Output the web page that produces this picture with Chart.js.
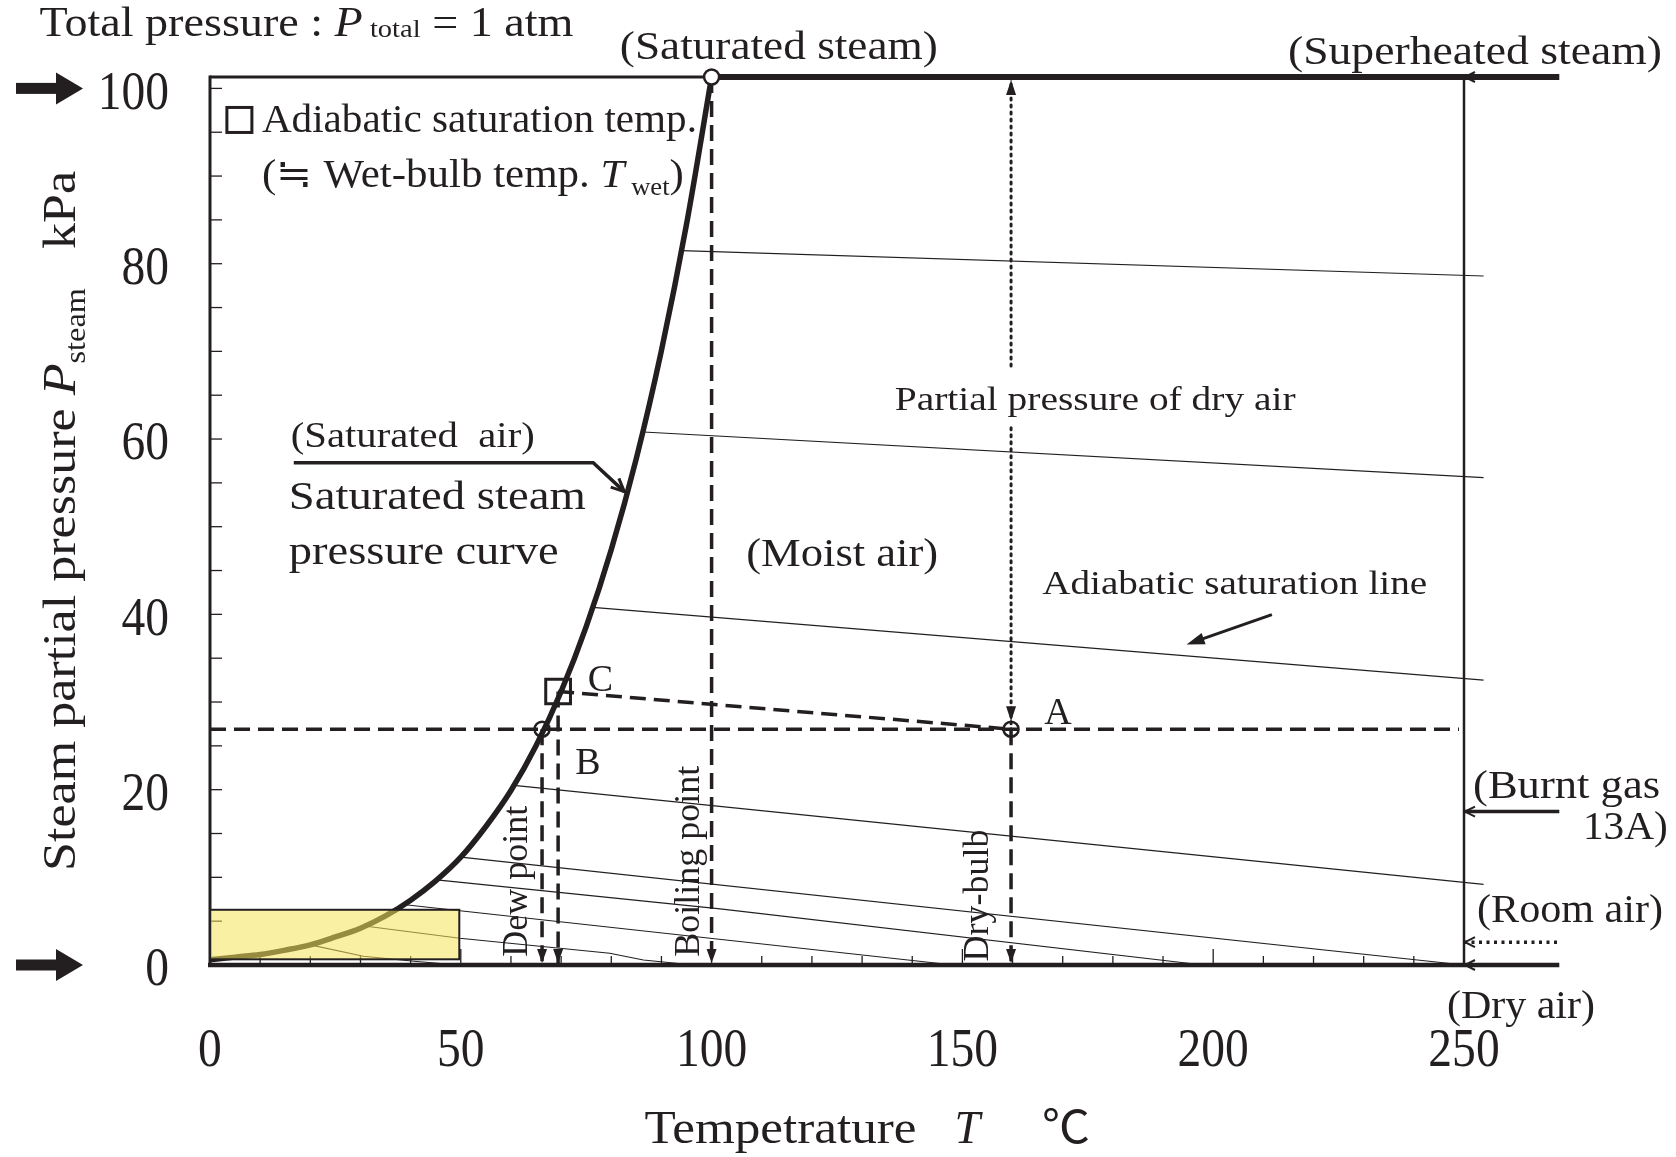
<!DOCTYPE html>
<html>
<head>
<meta charset="utf-8">
<script src="https://cdn.jsdelivr.net/npm/chart.js@4.4.1/dist/chart.umd.min.js"></script>
<style>
  html, body { margin: 0; padding: 0; background: #fff; }
</style>
</head>
<body>
<canvas id="psy" width="1676" height="1157"></canvas>
<script>
const INK = '#231f20';
const SERIF = '"Liberation Serif", "Times New Roman", "Noto Sans CJK JP", serif';

// axes
const totalPressure = 101.3;
const tempTicks = [0, 50, 100, 150, 200, 250];
const pressTicks = [0, 20, 40, 60, 80, 100];

// saturated steam pressure curve
const satTemp = [0, 5, 10, 15, 20, 25, 30, 35, 40, 45, 50, 55, 60, 65, 70, 75, 80, 85, 90, 95, 100];
const satPress = [0.6, 0.9, 1.2, 1.7, 2.3, 3.2, 4.2, 5.6, 7.4, 9.6, 12.3, 15.8, 19.9, 25.0, 31.2, 38.6, 47.4, 57.8, 70.1, 84.5, 101.3];

// adiabatic saturation lines (one list per line)
const adiabatTemp = [
  [94.0, 253.9], [86.4, 253.9], [76.3, 253.9], [60.6, 253.9], [50.0, 250],
  [45.2, 101.7, 198], [38.5, 148.2], [30.8, 49.8, 79.7, 86.4, 96.4], [20, 30.6, 41.2, 49.7]
];
const adiabatPress = [
  [81.5, 78.6], [60.8, 55.6], [40.8, 32.5], [20.5, 9.2], [12.3, 0],
  [9.7, 6.4, 0], [6.9, 0], [4.45, 3.05, 1.34, 0.57, 0], [2.3, 1.0, 0.4, 0]
];

// states: A dry-bulb, B dew point, C adiabatic saturation
const stateNames = ['A', 'B', 'C'];
const stateTemp = [159.7, 66.2, 69.4];
const statePress = [26.9, 26.9, 31.2];
const boilingTemp = 100;
const dewLineEnd = 249;
const dryAirGap = [61.3, 68.2];

// gas inlets on the right edge
const gasNames = ['Burnt gas 13A', 'Room air', 'Dry air'];
const gasPress = [17.5, 2.6, 0];
const edgeTemp = 250;
const arrowTailTemp = 269;

// highlighted low range
const boxTemp = [0, 49.7];
const boxPress = [0.65, 6.3];

const pts = (ts, ps) => ts.map((t, i) => ({ x: t, y: ps[i] }));
const line = (data, extra) => Object.assign({
  data, showLine: true, borderColor: INK, backgroundColor: INK, pointRadius: 0,
  borderWidth: 1.2, clip: false, tension: 0, order: 1
}, extra);
const DASH = [16, 8];
const [aT, bT, cT] = stateTemp;
const [aP, bP, cP] = statePress;

const datasets = [
  { data: [{ x: boilingTemp, y: totalPressure }, { x: aT, y: aP }, { x: bT, y: bP }],
    pointRadius: 7.5, pointBorderWidth: 2.5, pointBorderColor: INK,
    pointBackgroundColor: ['#fff', 'rgba(0,0,0,0)', 'rgba(0,0,0,0)'], clip: false, order: 0 },
  { data: [{ x: cT, y: cP }], pointStyle: 'rect', pointRadius: 17.5, pointBorderWidth: 3,
    pointBorderColor: INK, pointBackgroundColor: 'rgba(0,0,0,0)', clip: false, order: 0 },
  line(pts(satTemp, satPress), { borderWidth: 5.5, cubicInterpolationMode: 'monotone', borderJoinStyle: 'round' }),
  ...adiabatTemp.map((ts, i) => line(pts(ts, adiabatPress[i]))),
  line([{ x: boilingTemp, y: totalPressure }, { x: arrowTailTemp, y: totalPressure }], { borderWidth: 6 }),
  line([{ x: 0, y: bP }, { x: dewLineEnd, y: bP }], { borderWidth: 3.5, borderDash: DASH }),
  line([{ x: cT, y: cP }, { x: aT, y: aP }], { borderWidth: 3.5, borderDash: DASH }),
  ...[[bT, bP], [cT, cP], [boilingTemp, totalPressure], [aT, aP]].map(([t, p]) =>
    line([{ x: t, y: p }, { x: t, y: 0 }], { borderWidth: 3.5, borderDash: DASH })),
  line([{ x: aT, y: totalPressure }, { x: aT, y: dryAirGap[1] }], { borderWidth: 3, borderDash: [2, 5], borderCapStyle: 'round' }),
  line([{ x: aT, y: dryAirGap[0] }, { x: aT, y: aP }], { borderWidth: 3, borderDash: [2, 5], borderCapStyle: 'round' }),
  ...gasPress.map((p, i) => line([{ x: edgeTemp, y: p }, { x: arrowTailTemp, y: p }],
    i === 1 ? { borderWidth: 3.5, borderDash: [3, 4.5] } : { borderWidth: i === 0 ? 3.5 : 4.5 }))
];

// text notes: left/baseline in data units
const notes = [
  { runs: [{ t: 'Adiabatic saturation temp.' }], T: 10.35, P: 95.0, size: 40, w: 435 },
  { runs: [{ t: '(\u2252 Wet-bulb temp. ' }, { t: 'T', i: 1 }, { t: ' wet', s: 1 }, { t: ')' }], T: 10.35, P: 88.8, size: 40, w: 422 },
  { runs: [{ t: '(Saturated steam)' }], T: 81.7, P: 103.4, size: 40, w: 318 },
  { runs: [{ t: '(Superheated steam)' }], T: 214.9, P: 102.8, size: 40, w: 374 },
  { runs: [{ t: 'Total pressure : ' }, { t: 'P', i: 1 }, { t: ' total', s: 1, d: 0.04 }, { t: ' = 1 atm' }], T: -34.0, P: 106.0, size: 42, w: 534 },
  { runs: [{ t: '(Saturated  air)' }], T: 16.1, P: 59.1, size: 35, w: 244 },
  { runs: [{ t: 'Saturated steam' }], T: 15.7, P: 52.0, size: 40, w: 297 },
  { runs: [{ t: 'pressure curve' }], T: 15.7, P: 45.8, size: 40, w: 270 },
  { runs: [{ t: '(Moist air)' }], T: 106.9, P: 45.5, size: 40, w: 192 },
  { runs: [{ t: 'Partial pressure of dry air' }], T: 136.5, P: 63.3, size: 34, w: 401 },
  { runs: [{ t: 'Adiabatic saturation line' }], T: 165.9, P: 42.3, size: 34, w: 385 },
  { runs: [{ t: stateNames[0] }], T: 166.3, P: 27.5, size: 38 },
  { runs: [{ t: stateNames[1] }], T: 72.8, P: 21.8, size: 38 },
  { runs: [{ t: stateNames[2] }], T: 75.3, P: 31.2, size: 38 },
  { runs: [{ t: 'Dew point' }], T: 63.1, P: 0.95, size: 36, rot: true },
  { runs: [{ t: 'Boiling point' }], T: 97.4, P: 0.95, size: 36, rot: true },
  { runs: [{ t: 'Dry-bulb' }], T: 155.2, P: 0.4, size: 36, rot: true },
  { runs: [{ t: '(Burnt gas' }], T: 251.8, P: 19.1, size: 40, w: 187 },
  { runs: [{ t: '13A)' }], T: 273.7, P: 14.4, size: 40, w: 85 },
  { runs: [{ t: '(Room air)' }], T: 252.6, P: 4.9, size: 40, w: 186 },
  { runs: [{ t: '(Dry air)' }], T: 246.6, P: -6.05, size: 40, w: 148 }
];

function runFont(r, size) {
  return (r.i ? 'italic ' : '') + (r.s ? size * 0.62 : size) + 'px ' + SERIF;
}
function drawRuns(ctx, runs, x, y, size, width, angle) {
  ctx.save();
  ctx.translate(x, y);
  if (angle) ctx.rotate(angle);
  let total = 0;
  runs.forEach(r => { ctx.font = runFont(r, size); total += ctx.measureText(r.t).width; });
  if (width) ctx.scale(width / total, 1);
  ctx.fillStyle = INK;
  ctx.textBaseline = 'alphabetic';
  let cx = 0;
  runs.forEach(r => {
    ctx.font = runFont(r, size);
    ctx.fillText(r.t, cx, r.s ? size * (r.d !== undefined ? r.d : 0.2) : 0);
    cx += ctx.measureText(r.t).width;
  });
  ctx.restore();
}
// tall, slightly condensed numerals like the printed figure
function drawNumber(ctx, text, x, cy, align) {
  const size = 54, sx = 0.88;
  ctx.save();
  ctx.font = size + 'px ' + SERIF;
  const w = ctx.measureText(text).width * sx;
  const left = align === 'right' ? x - w : x - w / 2;
  ctx.translate(left, cy + size * 0.338);
  ctx.scale(sx, 1);
  ctx.fillStyle = INK;
  ctx.textBaseline = 'alphabetic';
  ctx.fillText(text, 0, 0);
  ctx.restore();
}
function seg(ctx, x1, y1, x2, y2, w) {
  ctx.lineWidth = w;
  ctx.beginPath(); ctx.moveTo(x1, y1); ctx.lineTo(x2, y2); ctx.stroke();
}
function tri(ctx, tx, ty, dx, dy, len, half) {
  const bx = tx - dx * len, by = ty - dy * len;
  ctx.beginPath();
  ctx.moveTo(tx, ty);
  ctx.lineTo(bx - dy * half, by + dx * half);
  ctx.lineTo(bx + dy * half, by - dx * half);
  ctx.closePath(); ctx.fill();
}
function vee(ctx, tx, ty, dx, dy, len, half, w) {
  const bx = tx - dx * len, by = ty - dy * len;
  ctx.lineWidth = w;
  ctx.beginPath();
  ctx.moveTo(bx - dy * half, by + dx * half); ctx.lineTo(tx, ty); ctx.lineTo(bx + dy * half, by - dx * half);
  ctx.stroke();
}

const psyDecor = {
  id: 'psyDecor',
  beforeDatasetsDraw(chart) {
    const { ctx, scales: { x, y } } = chart;
    const X = v => x.getPixelForValue(v), Y = v => y.getPixelForValue(v);
    ctx.save();
    ctx.strokeStyle = INK;
    seg(ctx, X(0), Y(0) + 2, X(0), Y(totalPressure) - 1.5, 3);
    seg(ctx, X(0), Y(totalPressure), X(boilingTemp), Y(totalPressure), 3);
    seg(ctx, X(edgeTemp), Y(0), X(edgeTemp), Y(totalPressure), 2.5);
    seg(ctx, X(0) - 2, Y(0), X(edgeTemp), Y(0), 4.5);
    for (let t = 10; t < 250; t += 10) seg(ctx, X(t), Y(0), X(t), Y(0) - (t % 50 ? 9 : 16), 1.3);
    for (let p = 5; p <= 100; p += 5) seg(ctx, X(0), Y(p), X(0) + 12, Y(p), 1.3);
    ctx.restore();
  },
  afterDatasetsDraw(chart) {
    const { ctx, scales: { x, y } } = chart;
    const X = v => x.getPixelForValue(v), Y = v => y.getPixelForValue(v);
    ctx.save();
    ctx.fillStyle = INK; ctx.strokeStyle = INK;
    // arrow tips of the vertical drops
    [bT, cT, boilingTemp, aT].forEach(t => tri(ctx, X(t), Y(0) - 2, 0, 1, 14, 5));
    tri(ctx, X(aT), Y(totalPressure) + 3, 0, -1, 15, 5);
    tri(ctx, X(aT), Y(aP) - 8, 0, 1, 15, 5);
    // inlets on the right edge
    [totalPressure, ...gasPress].forEach(p => vee(ctx, X(edgeTemp) + 1, Y(p), -1, 0, 10, 5, 2));
    // highlighted range
    ctx.fillStyle = 'rgba(245,228,90,0.55)';
    ctx.fillRect(X(boxTemp[0]), Y(boxPress[1]), X(boxTemp[1]) - X(boxTemp[0]), Y(boxPress[0]) - Y(boxPress[1]));
    ctx.lineWidth = 2;
    ctx.strokeRect(X(boxTemp[0]), Y(boxPress[1]), X(boxTemp[1]) - X(boxTemp[0]), Y(boxPress[0]) - Y(boxPress[1]));
    ctx.fillStyle = INK;
    // legend square
    ctx.lineWidth = 3;
    ctx.strokeRect(X(5.86) - 12.5, Y(96.4) - 12.5, 25, 25);
    // pointer for the saturated air label
    ctx.lineWidth = 3.5; ctx.lineJoin = 'miter';
    ctx.beginPath(); ctx.moveTo(X(16.7), Y(57.3)); ctx.lineTo(X(76.4), Y(57.3)); ctx.lineTo(X(82.6), Y(54.0)); ctx.stroke();
    const ddx = X(82.6) - X(76.4), ddy = Y(54.0) - Y(57.3), dl = Math.hypot(ddx, ddy);
    vee(ctx, X(82.6), Y(54.0), ddx / dl, ddy / dl, 13, 6, 3);
    // pointer for the adiabatic saturation line label
    const p0 = [X(211.7), Y(39.97)], p1 = [X(194.7), Y(36.56)];
    const ex = p1[0] - p0[0], ey = p1[1] - p0[1], el = Math.hypot(ex, ey);
    seg(ctx, p0[0], p0[1], p1[0] - ex / el * 10, p1[1] - ey / el * 10, 3);
    tri(ctx, p1[0], p1[1], ex / el, ey / el, 18, 6);
    // big arrows at 0 and 100 kPa
    [100, 0].forEach(p => {
      ctx.fillRect(16, Y(p) - 5.5, 42, 11);
      tri(ctx, 83, Y(p), 1, 0, 27, 16);
    });
    ctx.restore();
  },
  afterDraw(chart) {
    const { ctx, scales: { x, y } } = chart;
    const X = v => x.getPixelForValue(v), Y = v => y.getPixelForValue(v);
    // tick labels from the scales
    x.ticks.forEach(t => drawNumber(ctx, String(t.value), X(t.value), 1048, 'center'));
    y.ticks.forEach(t => drawNumber(ctx, String(t.value), 169, Y(t.value) + 2, 'right'));
    notes.forEach(n => drawRuns(ctx, n.runs, X(n.T), Y(n.P), n.size, n.w, n.rot ? -Math.PI / 2 : 0));
    // axis titles
    drawRuns(ctx, [{ t: 'Tempetrature' }], 644.5, 1143, 46, 272);
    drawRuns(ctx, [{ t: 'T', i: 1 }], 954.5, 1143, 46);
    drawRuns(ctx, [{ t: '\u2103' }], 1042, 1143, 46, 48);
    drawRuns(ctx, [{ t: 'Steam partial pressure ' }, { t: 'P', i: 1 }, { t: 'steam', s: 1, d: 0.22 }, { t: '   kPa' }],
      75, 871, 46, 700, -Math.PI / 2);
  }
};

new Chart(document.getElementById('psy'), {
  type: 'scatter',
  data: { datasets },
  options: {
    responsive: false,
    animation: false,
    events: [],
    layout: { padding: { top: 77, right: 212, left: 0, bottom: 0 } },
    plugins: { legend: { display: false }, tooltip: { enabled: false } },
    scales: {
      x: {
        type: 'linear', min: 0, max: 250,
        afterBuildTicks: s => { s.ticks = tempTicks.map(v => ({ value: v })); },
        afterFit: s => { s.height = 192; },
        grid: { display: false, drawTicks: false },
        border: { display: false },
        ticks: { display: false }
      },
      y: {
        type: 'linear', min: 0, max: totalPressure,
        afterBuildTicks: s => { s.ticks = pressTicks.map(v => ({ value: v })); },
        afterFit: s => { s.width = 210; },
        grid: { display: false, drawTicks: false },
        border: { display: false },
        ticks: { display: false }
      }
    }
  },
  plugins: [psyDecor]
});
</script>
</body>
</html>
